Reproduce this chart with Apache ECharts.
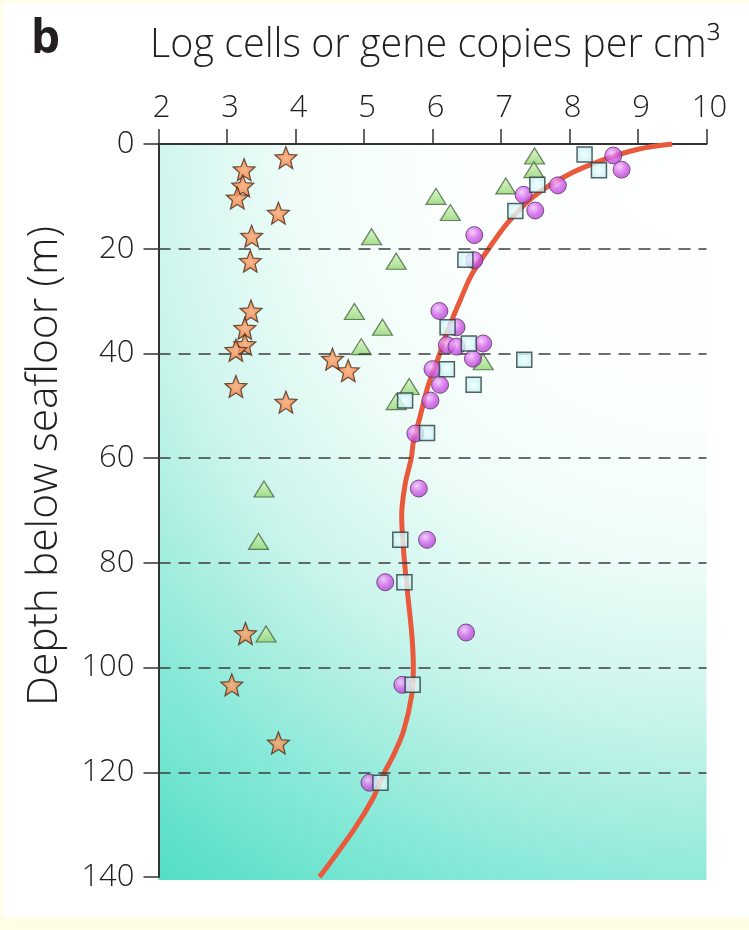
<!DOCTYPE html>
<html>
<head>
<meta charset="utf-8">
<script src="https://cdn.jsdelivr.net/npm/echarts@6/dist/echarts.min.js"></script>
<style>
html,body{margin:0;padding:0;background:#fffde6;}
#c{width:749px;height:930px;}
</style>
</head>
<body>
<div id="c"></div>
<script>
// x: log cells or gene copies per cm3 ; y: depth below seafloor (m)
const xTicks = [2, 3, 4, 5, 6, 7, 8, 9, 10];
const yTicks = [0, 20, 40, 60, 80, 100, 120, 140];
const dashedDepths = [20, 40, 60, 80, 100, 120];

const starLog   = [3.86, 3.25, 3.23, 3.15, 3.75, 3.36, 3.34, 3.35, 3.26, 3.26, 3.13, 4.54, 4.77, 3.13, 3.86, 3.27, 3.07, 3.75];
const starDepth = [2.6, 4.9, 8.0, 10.3, 13.2, 17.6, 22.4, 31.9, 35.2, 38.3, 39.4, 41.1, 43.3, 46.3, 49.3, 93.5, 103.3, 114.4];

const triLog   = [7.49, 7.48, 7.07, 6.05, 6.26, 5.11, 5.47, 4.86, 5.27, 4.96, 6.74, 5.66, 5.47, 3.54, 3.46, 3.57];
const triDepth = [2.3, 4.9, 8.0, 10.0, 13.1, 17.7, 22.4, 32.0, 35.0, 38.7, 41.6, 46.3, 49.2, 65.9, 75.9, 93.6];

const circLog   = [8.64, 8.76, 7.83, 7.33, 7.50, 6.61, 6.61, 6.10, 6.35, 6.21, 6.35, 6.74, 6.59, 6.00, 6.11, 5.97, 5.75, 5.80, 5.92, 5.31, 6.49, 5.56, 5.08];
const circDepth = [2.2, 4.9, 7.9, 9.7, 12.7, 17.4, 22.2, 31.9, 35.0, 38.4, 38.7, 38.1, 41.0, 43.0, 46.0, 49.0, 55.3, 65.8, 75.6, 83.7, 93.3, 103.3, 122.0];

const sqLog   = [8.22, 8.43, 7.53, 7.21, 6.48, 6.22, 6.53, 7.34, 6.21, 6.60, 5.60, 5.92, 5.53, 5.59, 5.71, 5.24];
const sqDepth = [2.0, 5.0, 7.8, 12.8, 22.1, 35.0, 38.1, 41.2, 43.0, 46.0, 49.0, 55.2, 75.6, 83.7, 103.3, 122.0];

const curveLog   = [9.5, 9.0, 8.5, 7.96, 7.48, 7.1, 6.82, 6.57, 6.4, 6.21, 6.08, 5.94, 5.82, 5.72, 5.69, 5.6, 5.55, 5.58, 5.63, 5.7, 5.72, 5.70, 5.58, 5.42, 5.3, 5.13, 4.85, 4.35];
const curveDepth = [0, 1, 3, 6, 10, 15, 20, 25, 30, 36, 41, 46, 52, 57, 60, 65, 71, 78, 85, 94, 100, 105, 112, 117, 120, 125, 131, 140];

const zip = (a, b) => a.map((v, i) => [v, b[i]]);

const FONT = "'Open Sans', 'Noto Sans', sans-serif";
const TXT = '#231f20';
const AX = '#333333';

const starPath = 'path://M50,2 L62.9,34.2 L97.6,36.5 L70.9,58.8 L79.4,92.5 L50,74 L20.6,92.5 L29.1,58.8 L2.4,36.5 L37.1,34.2 Z';

const chart = echarts.init(document.getElementById('c'), null, {renderer: 'canvas'});
const G = echarts.graphic;

chart.setOption({
  backgroundColor: 'transparent',
  animation: false,
  graphic: [
    {type: 'rect', z: -20, silent: true, shape: {x: 3, y: 3, width: 746, height: 914}, style: {fill: '#ffffff'}},
    {type: 'rect', z: -10, silent: true, shape: {x: 158.5, y: 144, width: 548, height: 736},
      style: {fill: new G.RadialGradient(1, 0, 1.674, [
        {offset: 0, color: '#ffffff'},
        {offset: 0.3, color: '#fbfffe'},
        {offset: 0.45, color: '#eefcf8'},
        {offset: 0.6, color: '#d0f6ee'},
        {offset: 0.71, color: '#aeefe2'},
        {offset: 0.82, color: '#88e9d8'},
        {offset: 1, color: '#52dec4'}
      ])}},
    {type: 'text', z: 10, left: 31, top: 17, style: {text: 'b', font: "bold 46px " + FONT, fill: TXT}},
    {type: 'text', z: 10, x: 435, y: 46, style: {text: 'Log cells or gene copies per cm\u00B3', font: "300 39.5px " + FONT, fill: TXT, textAlign: 'center', textVerticalAlign: 'middle'}},
    {type: 'text', z: 10, x: 45, y: 466, rotation: Math.PI / 2, style: {text: 'Depth below seafloor (m)', font: "300 42.5px " + FONT, fill: TXT, textAlign: 'center', textVerticalAlign: 'middle'}}
  ],
  grid: {left: 158.5, top: 144, width: 548, height: 733, show: false},
  xAxis: {
    type: 'value', position: 'top', min: xTicks[0], max: xTicks[xTicks.length - 1], interval: 1,
    axisLine: {show: true, lineStyle: {color: AX, width: 2}},
    axisTick: {show: true, inside: false, length: 15, lineStyle: {color: AX, width: 1.5}},
    axisLabel: {margin: 20, color: TXT, fontSize: 31, fontWeight: 300, fontFamily: FONT, padding: [0, 0, 0, 6]},
    splitLine: {show: false}
  },
  yAxis: {
    type: 'value', inverse: true, min: yTicks[0], max: yTicks[yTicks.length - 1], interval: 20,
    axisLine: {show: true, lineStyle: {color: AX, width: 2}},
    axisTick: {show: true, inside: false, length: 15, lineStyle: {color: AX, width: 1.5}},
    axisLabel: {margin: 24, color: TXT, fontSize: 31, fontWeight: 300, fontFamily: FONT},
    splitLine: {show: false}
  },
  series: [
    {
      type: 'line', data: zip(curveLog, curveDepth), smooth: 0.35, symbol: 'none', z: 2,
      lineStyle: {color: '#e9593b', width: 5},
      markLine: {
        silent: true, symbol: 'none', label: {show: false},
        lineStyle: {color: '#3c3c3c', width: 1.6, type: [12, 8]},
        data: dashedDepths.map(d => ({yAxis: d}))
      }
    },
    {
      type: 'scatter', data: zip(starLog, starDepth), symbol: starPath, symbolSize: 22, z: 3,
      itemStyle: {color: new G.RadialGradient(0.5, 0.5, 0.6, [{offset: 0, color: '#ffa870'}, {offset: 1, color: '#e8692c'}]), borderColor: '#4a2a1a', borderWidth: 1.2}
    },
    {
      type: 'scatter', data: zip(triLog, triDepth), symbol: 'triangle', symbolSize: [20, 16], z: 4,
      itemStyle: {color: new G.LinearGradient(0, 0, 0, 1, [{offset: 0, color: '#d6f5c2'}, {offset: 1, color: '#8ed56e'}]), borderColor: '#4a6440', borderWidth: 1.2}
    },
    {
      type: 'scatter', data: zip(circLog, circDepth), symbol: 'circle', symbolSize: 17, z: 5,
      itemStyle: {color: new G.RadialGradient(0.4, 0.35, 0.65, [{offset: 0, color: '#f4c4fb'}, {offset: 0.55, color: '#d260ea'}, {offset: 1, color: '#b042cc'}]), borderColor: '#5b3466', borderWidth: 1}
    },
    {
      type: 'scatter', data: zip(sqLog, sqDepth), symbol: 'rect', symbolSize: 15, z: 6,
      itemStyle: {color: new G.RadialGradient(0.5, 0.5, 0.7, [{offset: 0, color: '#f0feff'}, {offset: 1, color: '#b2ecf0'}]), borderColor: '#2e3a3c', borderWidth: 1.5}
    }
  ]
});
</script>
</body>
</html>
